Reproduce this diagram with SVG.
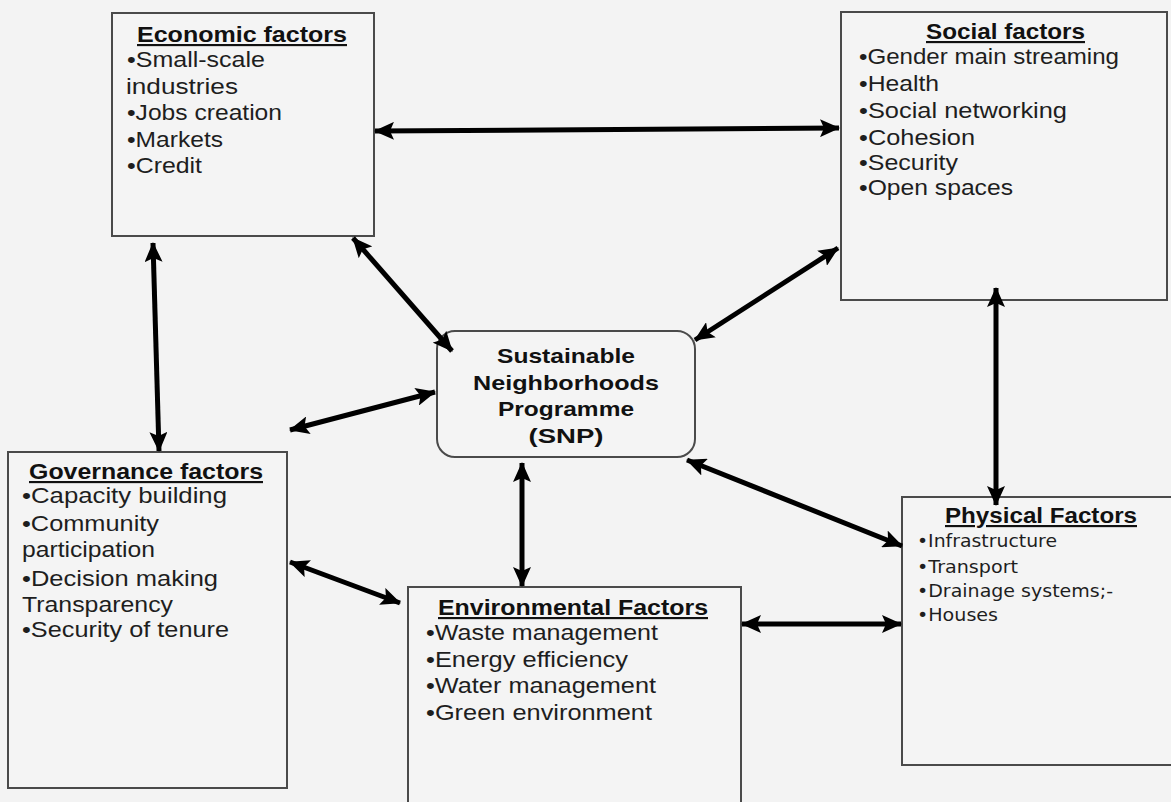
<svg xmlns="http://www.w3.org/2000/svg" width="1171" height="802" viewBox="0 0 1171 802">
<style>
.bg{fill:#f3f3f3}
.box{fill:#f4f4f4;stroke:#4a4a4a;stroke-width:2}
.t{font-family:"Liberation Sans",Arial,sans-serif;font-size:21.5px;fill:#1e1e1e}
.h{font-family:"Liberation Sans",Arial,sans-serif;font-size:21.5px;font-weight:bold;fill:#111;text-decoration:underline}
.p{font-family:"DejaVu Sans","Liberation Sans",sans-serif;font-size:17.5px;fill:#1e1e1e}
.s{font-family:"Liberation Sans",Arial,sans-serif;font-size:20.5px;font-weight:bold;fill:#111;text-anchor:middle}
.a{stroke:#000;stroke-width:5;fill:none;marker-start:url(#ah);marker-end:url(#ah)}
</style>
<defs>
<marker id="ah" markerUnits="userSpaceOnUse" markerWidth="20" markerHeight="18" refX="19" refY="9" orient="auto-start-reverse">
<path d="M0,0 L20,9 L0,18 L4,9 z" fill="#000"/>
</marker>
</defs>
<rect class="bg" x="0" y="0" width="1171" height="802"/>

<g id="economic">
<rect class="box" x="112" y="13" width="262" height="223"/>
<text class="h" x="137" y="42" textLength="210" lengthAdjust="spacingAndGlyphs">Economic factors</text>
<text class="t" x="127" y="67" textLength="138" lengthAdjust="spacingAndGlyphs">•Small-scale</text>
<text class="t" x="126" y="94" textLength="112" lengthAdjust="spacingAndGlyphs">industries</text>
<text class="t" x="127" y="120" textLength="155" lengthAdjust="spacingAndGlyphs">•Jobs creation</text>
<text class="t" x="127" y="147" textLength="96" lengthAdjust="spacingAndGlyphs">•Markets</text>
<text class="t" x="127" y="173" textLength="75" lengthAdjust="spacingAndGlyphs">•Credit</text>
</g>

<g id="social">
<rect class="box" x="841" y="12" width="326" height="288"/>
<text class="h" x="926" y="39" textLength="159" lengthAdjust="spacingAndGlyphs">Social factors</text>
<text class="t" x="859" y="64" textLength="260" lengthAdjust="spacingAndGlyphs">•Gender main streaming</text>
<text class="t" x="859" y="91" textLength="80" lengthAdjust="spacingAndGlyphs">•Health</text>
<text class="t" x="859" y="118" textLength="208" lengthAdjust="spacingAndGlyphs">•Social networking</text>
<text class="t" x="859" y="145" textLength="116" lengthAdjust="spacingAndGlyphs">•Cohesion</text>
<text class="t" x="859" y="170" textLength="99" lengthAdjust="spacingAndGlyphs">•Security</text>
<text class="t" x="859" y="195" textLength="154" lengthAdjust="spacingAndGlyphs">•Open spaces</text>
</g>

<g id="snp">
<rect class="box" x="437" y="331" width="258" height="126" rx="18" ry="18"/>
<text class="s" x="566" y="363" textLength="138" lengthAdjust="spacingAndGlyphs">Sustainable</text>
<text class="s" x="566" y="390" textLength="186" lengthAdjust="spacingAndGlyphs">Neighborhoods</text>
<text class="s" x="566" y="416" textLength="136" lengthAdjust="spacingAndGlyphs">Programme</text>
<text class="s" x="566" y="443" textLength="75" lengthAdjust="spacingAndGlyphs">(SNP)</text>
</g>

<g id="governance">
<rect class="box" x="8" y="452" width="279" height="336"/>
<text class="h" x="29" y="479" textLength="234" lengthAdjust="spacingAndGlyphs">Governance factors</text>
<text class="t" x="22" y="503" textLength="205" lengthAdjust="spacingAndGlyphs">•Capacity building</text>
<text class="t" x="22" y="531" textLength="137" lengthAdjust="spacingAndGlyphs">•Community</text>
<text class="t" x="22" y="557" textLength="133" lengthAdjust="spacingAndGlyphs">participation</text>
<text class="t" x="22" y="586" textLength="196" lengthAdjust="spacingAndGlyphs">•Decision making</text>
<text class="t" x="22" y="612" textLength="151" lengthAdjust="spacingAndGlyphs">Transparency</text>
<text class="t" x="22" y="637" textLength="207" lengthAdjust="spacingAndGlyphs">•Security of tenure</text>
</g>

<g id="environmental">
<rect class="box" x="408" y="587" width="333" height="230"/>
<text class="h" x="438" y="615" textLength="270" lengthAdjust="spacingAndGlyphs">Environmental Factors</text>
<text class="t" x="426" y="640" textLength="232" lengthAdjust="spacingAndGlyphs">•Waste management</text>
<text class="t" x="426" y="667" textLength="202" lengthAdjust="spacingAndGlyphs">•Energy efficiency</text>
<text class="t" x="426" y="693" textLength="230" lengthAdjust="spacingAndGlyphs">•Water management</text>
<text class="t" x="426" y="720" textLength="226" lengthAdjust="spacingAndGlyphs">•Green environment</text>
</g>

<g id="physical">
<rect class="box" x="902" y="497" width="280" height="268"/>
<text class="h" x="945" y="523" textLength="192" lengthAdjust="spacingAndGlyphs">Physical Factors</text>
<text class="p" x="917" y="547" textLength="140" lengthAdjust="spacingAndGlyphs">•Infrastructure</text>
<text class="p" x="917" y="573" textLength="101" lengthAdjust="spacingAndGlyphs">•Transport</text>
<text class="p" x="917" y="597" textLength="196" lengthAdjust="spacingAndGlyphs">•Drainage systems;-</text>
<text class="p" x="917" y="621" textLength="81" lengthAdjust="spacingAndGlyphs">•Houses</text>
</g>

<g id="connectors">
<line class="a" x1="375" y1="131" x2="839" y2="128"/>
<line class="a" x1="153" y1="243" x2="159" y2="451"/>
<line class="a" x1="353" y1="238" x2="452" y2="351"/>
<line class="a" x1="290" y1="430" x2="435" y2="392"/>
<line class="a" x1="695" y1="340" x2="838" y2="248"/>
<line class="a" x1="996" y1="288" x2="996" y2="505"/>
<line class="a" x1="687" y1="460" x2="902" y2="546"/>
<line class="a" x1="522" y1="463" x2="522" y2="586"/>
<line class="a" x1="290" y1="562" x2="400" y2="603"/>
<line class="a" x1="742" y1="624" x2="901" y2="624"/>
</g>
</svg>
